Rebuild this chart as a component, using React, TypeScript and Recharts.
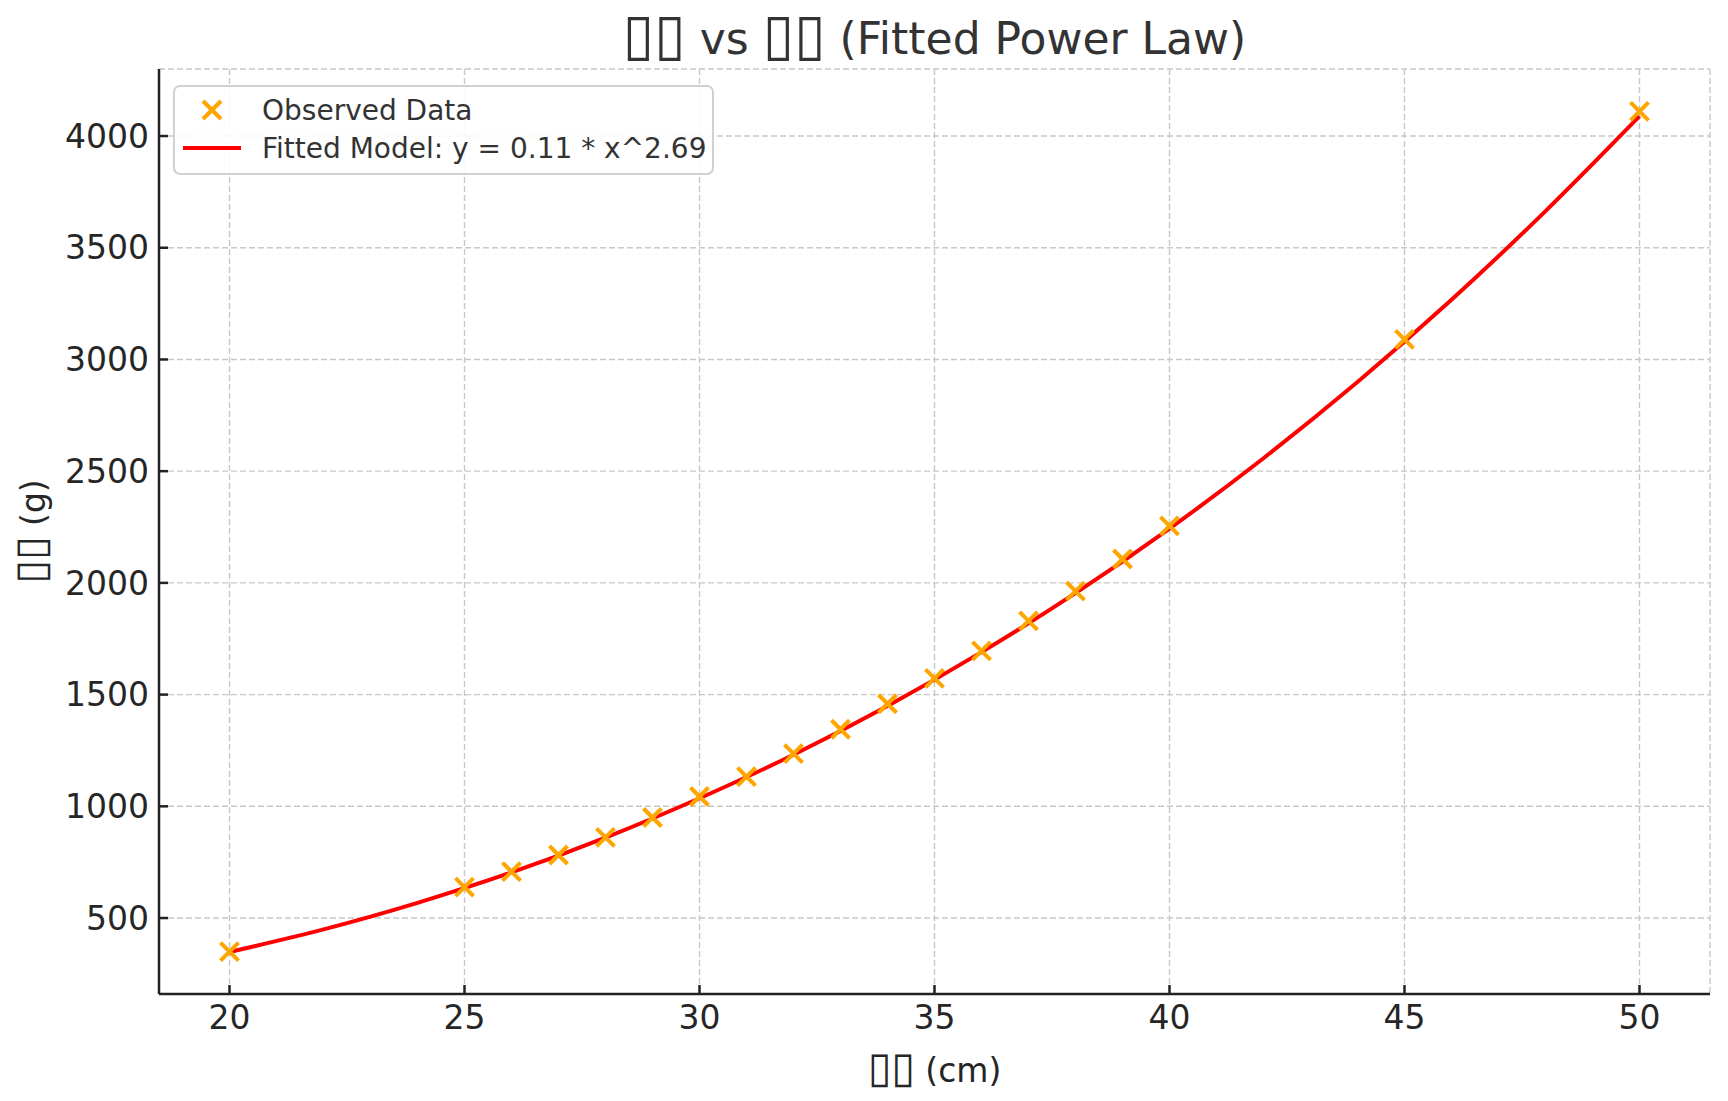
import React from 'react';
import { ComposedChart, Scatter, Line, XAxis, YAxis, CartesianGrid, Legend } from 'recharts';

// Observed data (length cm -> weight g)
const lengthCm = [20, 25, 26, 27, 28, 29, 30, 31, 32, 33, 34, 35, 36, 37, 38, 39, 40, 45, 50];
const weightG = [350, 638, 708, 782, 861, 950, 1044, 1133, 1236, 1345, 1459, 1573, 1696, 1830, 1963, 2107, 2255, 3090, 4110];

// Fitted curve
const fitLengthCm = [20, 22, 24, 26, 28, 30, 32, 34, 36, 38, 40, 42, 44, 46, 48, 50];
const fitWeightG = [348, 449, 568, 704, 860, 1036, 1231, 1449, 1690, 1954, 2243, 2558, 2899, 3267, 3664, 4089];

const xTicks = [20, 25, 30, 35, 40, 45, 50];
const yTicks = [500, 1000, 1500, 2000, 2500, 3000, 3500, 4000];

const titleText = '▯▯ vs ▯▯ (Fitted Power Law)';
const xLabelText = '▯▯ (cm)';
const yLabelText = '▯▯ (g)';
const legendObserved = 'Observed Data';
const legendFitted = 'Fitted Model: y = 0.11 * x^2.69';

const observed = lengthCm.map((x, i) => ({ x, y: weightG[i] }));
const fitted = fitLengthCm.map((x, i) => ({ x, y: fitWeightG[i] }));

const FONT = '"DejaVu Sans", sans-serif';
const ORANGE = '#FFA500';
const RED = '#FF0000';
const AXIS = '#222222';

// Render missing-glyph boxes a little larger so they resemble tofu boxes
const withBoxes = (s: string) =>
  s.split(/(▯+)/).map((part, i) =>
    part.startsWith('▯') ? (
      <tspan key={i} fontSize="1.3em">{part}</tspan>
    ) : (
      <tspan key={i}>{part}</tspan>
    )
  );

const XMark = (p: any) => {
  const { cx, cy } = p;
  if (cx == null || cy == null) return null;
  const r = 9;
  return (
    <g>
      <line x1={cx - r} y1={cy - r} x2={cx + r} y2={cy + r} stroke={ORANGE} strokeWidth={4} />
      <line x1={cx - r} y1={cy + r} x2={cx + r} y2={cy - r} stroke={ORANGE} strokeWidth={4} />
    </g>
  );
};

const YTick = (p: any) => (
  <g>
    <line x1={p.x + 10} x2={p.x + 19} y1={p.y} y2={p.y} stroke={AXIS} strokeWidth={2.5} />
    <text x={p.x} y={p.y} dy="0.355em" textAnchor="end" fontSize={33} fill="#262626" fontFamily={FONT}>
      {p.payload.value}
    </text>
  </g>
);

const XTick = (p: any) => (
  <g>
    <line x1={p.x} x2={p.x} y1={p.y - 12} y2={p.y - 21} stroke={AXIS} strokeWidth={2.5} />
    <text x={p.x} y={p.y} dy="0.71em" textAnchor="middle" fontSize={33} fill="#262626" fontFamily={FONT}>
      {p.payload.value}
    </text>
  </g>
);

const XLabel = (p: any) => {
  const vb = p.viewBox || {};
  return (
    <text x={vb.x + vb.width / 2} y={1082} textAnchor="middle" fontSize={33} fill="#262626" fontFamily={FONT}>
      {withBoxes(xLabelText)}
    </text>
  );
};

const YLabel = (p: any) => {
  const vb = p.viewBox || {};
  const cx = 45;
  const cy = vb.y + vb.height / 2;
  return (
    <text x={cx} y={cy} transform={`rotate(-90, ${cx}, ${cy})`} textAnchor="middle" fontSize={33} fill="#262626" fontFamily={FONT}>
      {withBoxes(yLabelText)}
    </text>
  );
};

const renderLegend = () => (
  <svg width={541} height={90} style={{ display: 'block' }}>
    <rect x={1} y={1} width={539} height={88} rx={6} ry={6} fill="rgba(255,255,255,0.85)" stroke="#d0d0d0" strokeWidth={2} />
    <line x1={39 - 9} y1={25 - 9} x2={39 + 9} y2={25 + 9} stroke={ORANGE} strokeWidth={4} />
    <line x1={39 - 9} y1={25 + 9} x2={39 + 9} y2={25 - 9} stroke={ORANGE} strokeWidth={4} />
    <text x={89} y={25} dy="0.36em" fontSize={28} fill="#333" fontFamily={FONT}>{legendObserved}</text>
    <line x1={10} y1={63} x2={68} y2={63} stroke={RED} strokeWidth={4} />
    <text x={89} y={63} dy="0.36em" fontSize={28} fill="#333" fontFamily={FONT}>{legendFitted}</text>
  </svg>
);

export default function App() {
  return (
    <div style={{ position: 'absolute', left: 0, top: 0, width: 1728, height: 1101, background: '#fff' }}>
      <ComposedChart width={1728} height={1101} margin={{ top: 69, right: 18, bottom: 0, left: 0 }}>
        <CartesianGrid stroke="#c8c8c8" strokeDasharray="6 3" strokeWidth={1.4} />
        <XAxis
          type="number"
          dataKey="x"
          domain={[18.5, 51.5]}
          ticks={xTicks}
          allowDataOverflow
          height={107}
          tickSize={0}
          tickMargin={12}
          tickLine={false}
          axisLine={{ stroke: AXIS, strokeWidth: 2.5 }}
          tick={<XTick />}
          label={<XLabel />}
        />
        <YAxis
          type="number"
          dataKey="y"
          domain={[160, 4300]}
          ticks={yTicks}
          allowDataOverflow
          width={159}
          tickSize={0}
          tickMargin={10}
          tickLine={false}
          axisLine={{ stroke: AXIS, strokeWidth: 2.5 }}
          tick={<YTick />}
          label={<YLabel />}
        />
        <Scatter name={legendObserved} data={observed} shape={<XMark />} fill={ORANGE} isAnimationActive={false} />
        <Line
          name={legendFitted}
          data={fitted}
          dataKey="y"
          type="monotone"
          stroke={RED}
          strokeWidth={4}
          dot={false}
          activeDot={false}
          isAnimationActive={false}
        />
        <Legend
          content={renderLegend}
          layout="horizontal"
          verticalAlign="middle"
          align="center"
          wrapperStyle={{ position: 'absolute', left: 173, top: 85, width: 541, height: 90 }}
        />
        <text x={934.5} y={54} textAnchor="middle" fontSize={44} fill="#333" fontFamily={FONT}>
          {withBoxes(titleText)}
        </text>
      </ComposedChart>
    </div>
  );
}
